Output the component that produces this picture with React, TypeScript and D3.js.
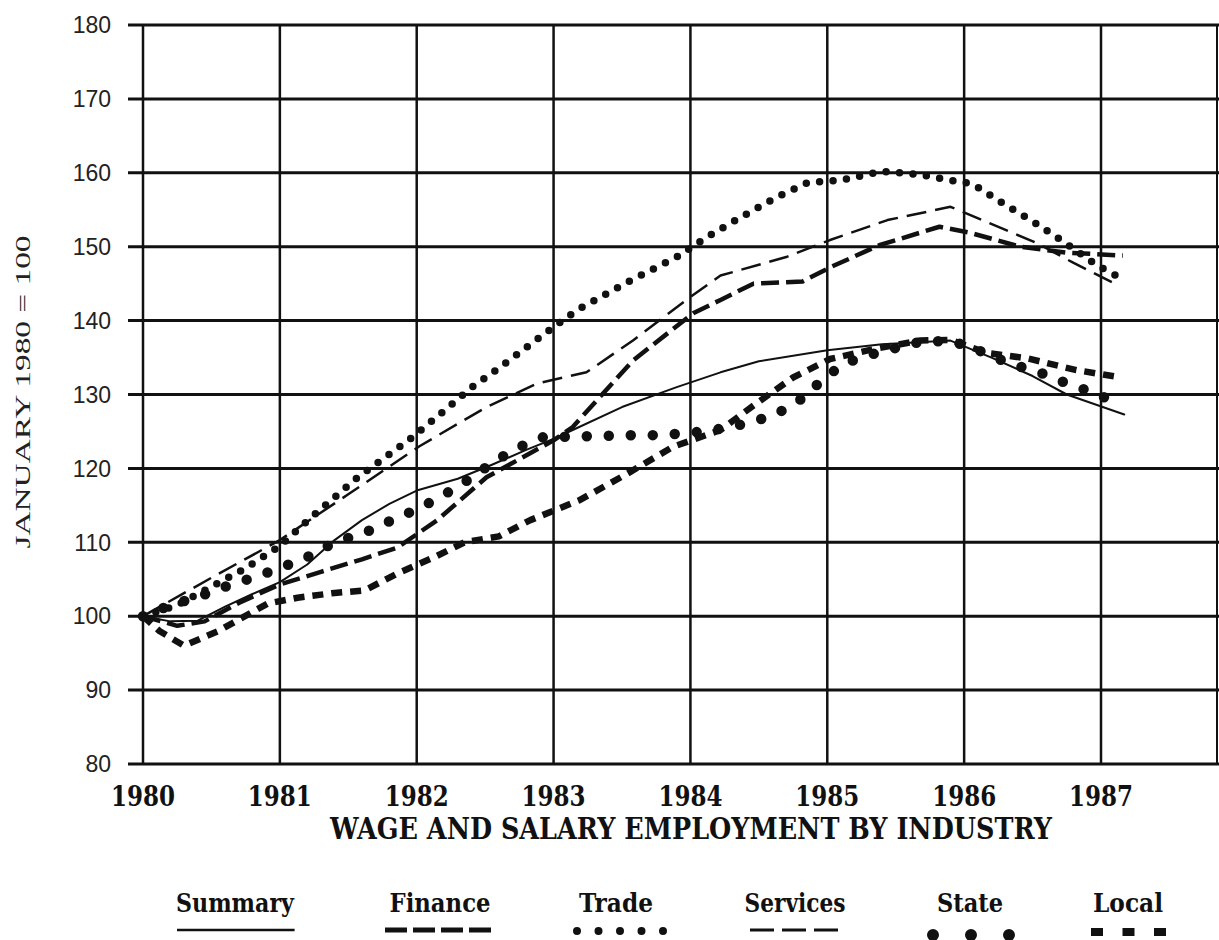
import React from "react";
import * as d3 from "d3";

// ---- data (year, index value; January 1980 = 100) ----
const summary: [number, number][] = [
  [1980.0, 100], [1980.2, 99.3], [1980.4, 99.4], [1980.6, 101.3], [1980.8, 103], [1981.0, 104.6],
  [1981.2, 107], [1981.4, 110.3], [1981.6, 113], [1981.8, 115.2], [1982.0, 117], [1982.3, 118.6],
  [1982.55, 120.5], [1982.8, 122.5], [1983.0, 124], [1983.14, 125.2], [1983.5, 128.3], [1983.9, 131],
  [1984.22, 133], [1984.5, 134.5], [1985.0, 136], [1985.4, 136.8], [1985.7, 137.1], [1985.9, 137.3],
  [1986.2, 135], [1986.5, 132.5], [1986.75, 130], [1987.17, 127.3],
];
const finance: [number, number][] = [
  [1980, 100], [1980.25, 98.7], [1980.45, 99.3], [1980.7, 101.8], [1981.0, 104.3], [1981.3, 106],
  [1981.6, 107.7], [1981.86, 109.3], [1982.15, 113], [1982.51, 118.8], [1983.0, 123.8], [1983.14, 125.6],
  [1983.58, 134.6], [1984.02, 141], [1984.22, 142.8], [1984.46, 145], [1984.82, 145.3], [1985.02, 147.2],
  [1985.38, 150.2], [1985.82, 152.7], [1986.04, 151.9], [1986.41, 150], [1986.75, 149.2], [1987.16, 148.8],
];
const trade: [number, number][] = [
  [1980, 100], [1980.25, 101.5], [1980.5, 104], [1980.75, 106.5], [1981.0, 109.5], [1981.23, 113.4],
  [1981.57, 118.8], [1981.94, 123.8], [1982.2, 127.8], [1982.39, 130.8], [1982.61, 133.7], [1982.94, 138.3],
  [1983.17, 141.4], [1983.54, 145.2], [1983.9, 148.6], [1984.12, 151.3], [1984.36, 153.9], [1984.62, 156.6],
  [1984.86, 158.7], [1985.1, 159], [1985.4, 160.2], [1985.66, 159.8], [1985.93, 158.9], [1986.06, 158.5],
  [1986.28, 155.9], [1986.52, 153.2], [1986.74, 150.5], [1986.97, 147.5], [1987.12, 146],
];
const services: [number, number][] = [
  [1980, 100], [1980.5, 105.2], [1981.0, 110.3], [1981.5, 116.5], [1982.02, 123], [1982.51, 128.3],
  [1982.88, 131.5], [1983.24, 133], [1983.58, 137.3], [1983.97, 142.8], [1984.22, 146.1], [1984.7, 148.6],
  [1985.02, 150.9], [1985.44, 153.6], [1985.9, 155.4], [1986.17, 153.3], [1986.53, 150.5], [1986.8, 147.8],
  [1987.1, 145],
];
const state: [number, number][] = [
  [1980, 100], [1980.2, 101.5], [1980.4, 102.6], [1980.6, 104], [1980.8, 105.2], [1981.0, 106.5],
  [1981.2, 108], [1981.4, 110], [1981.62, 111.3], [1981.82, 113], [1982.04, 114.8], [1982.3, 117.5],
  [1982.58, 121.1], [1982.75, 122.9], [1982.92, 124.2], [1983.14, 124.3], [1983.57, 124.5], [1983.78, 124.5],
  [1984.0, 124.8], [1984.2, 125.3], [1984.42, 126.1], [1984.62, 127.3], [1984.79, 129.1], [1984.96, 131.9],
  [1985.12, 134.2], [1985.32, 135.4], [1985.52, 136.4], [1985.72, 137.3], [1985.93, 137.1], [1986.13, 135.8],
  [1986.33, 134.2], [1986.55, 133], [1986.75, 131.5], [1986.94, 130.3], [1987.16, 128.5],
];
const local: [number, number][] = [
  [1980, 100], [1980.12, 98], [1980.3, 96.0], [1980.55, 98.0], [1980.91, 101.7], [1981.13, 102.5],
  [1981.38, 103.1], [1981.62, 103.5], [1981.86, 105.8], [1982.13, 108], [1982.35, 110], [1982.6, 110.8],
  [1982.83, 113], [1983.19, 115.7], [1983.54, 119.3], [1983.87, 122.9], [1984.22, 125.2], [1984.46, 128.5],
  [1984.75, 132.3], [1985.02, 134.8], [1985.35, 136.2], [1985.68, 137.3], [1985.9, 137.4], [1986.17, 135.6],
  [1986.46, 134.9], [1986.82, 133.3], [1987.15, 132.3],
];

const yearTicks = [1980, 1981, 1982, 1983, 1984, 1985, 1986, 1987];
const valueTicks = [80, 90, 100, 110, 120, 130, 140, 150, 160, 170, 180];
const legendNames = ["Summary", "Finance", "Trade", "Services", "State", "Local"];

const INK = "#111";

type Style = { width: number; dash?: string; cap?: "round" | "butt" | "square" };
const styles: Record<string, Style> = {
  Summary: { width: 2 },
  Finance: { width: 4.5, dash: "18 7", cap: "butt" },
  Trade: { width: 7.5, dash: "0 13.5", cap: "round" },
  Services: { width: 2.5, dash: "20 9", cap: "butt" },
  State: { width: 10.5, dash: "0 22", cap: "round" },
  Local: { width: 6.5, dash: "11 8", cap: "butt" },
};
const legendStyles: Record<string, Style> = {
  Summary: { width: 2.5 },
  Finance: { width: 5, dash: "22 6", cap: "butt" },
  Trade: { width: 8, dash: "0 21.5", cap: "round" },
  Services: { width: 3, dash: "24 8", cap: "butt" },
  State: { width: 12, dash: "0 38", cap: "round" },
  Local: { width: 8, dash: "12 19.5", cap: "butt" },
};

export default function App() {
  React.useEffect(() => {
    document.body.style.margin = "0";
  }, []);

  const W = 1219, H = 940;
  const x = d3.scaleLinear().domain([1980, 1987]).range([143, 1101]);
  const y = d3.scaleLinear().domain([80, 180]).range([764, 25]);
  const line = d3.line<[number, number]>().x((d) => x(d[0])).y((d) => y(d[1])).curve(d3.curveLinear);

  const series: [string, [number, number][]][] = [
    ["Summary", summary], ["Finance", finance], ["Trade", trade],
    ["Services", services], ["State", state], ["Local", local],
  ];

  // legend layout
  const legendLabelX = [235, 440, 616, 795, 970, 1128];
  const legendLabelW = [118, 101, 74, 101, 66, 70];
  const legendSym: [number, number, number][] = [
    [177, 294, 930], [385, 491, 930], [577, 663, 931], [750, 838, 930], [933, 1009, 935], [1091, 1166, 932],
  ];
  const serifFont = "'DejaVu Serif', 'Liberation Serif', serif";

  return (
    <svg width={W} height={H} style={{ display: "block", background: "#fff", position: "absolute", left: 0, top: 0 }}>
      <rect width={W} height={H} fill="#fff" />
      {/* horizontal gridlines */}
      {valueTicks.map((v) => (
        <line key={"h" + v} x1={128} x2={W} y1={y(v)} y2={y(v)} stroke={INK} strokeWidth={3} />
      ))}
      {/* vertical gridlines */}
      {yearTicks.map((yr) => (
        <line key={"v" + yr} x1={x(yr)} x2={x(yr)} y1={y(180)} y2={y(80)} stroke={INK} strokeWidth={2.5} />
      ))}
      <line x1={1217} x2={1217} y1={y(180)} y2={y(80)} stroke={INK} strokeWidth={2} />

      {/* y tick labels */}
      {valueTicks.map((v) => (
        <text key={"yl" + v} x={111} y={y(v)} dy="0.36em" textAnchor="end"
          fontFamily="'Liberation Sans', Arial, sans-serif" fontSize={23} fill="#222">
          {v}
        </text>
      ))}
      {/* x tick labels */}
      {yearTicks.map((yr) => (
        <text key={"xl" + yr} x={x(yr) - 32} y={806} fontFamily={serifFont} fontSize={27} fontWeight="bold"
          textLength={64} lengthAdjust="spacingAndGlyphs" fill={INK}>
          {yr}
        </text>
      ))}

      {/* y axis title */}
      <text transform="translate(30,392) rotate(-90)" textAnchor="middle" fontFamily="'Liberation Serif', serif"
        fontSize={22} textLength={313} lengthAdjust="spacingAndGlyphs" fill="#222">
        JANUARY 1980 = 100
      </text>

      {/* x axis title */}
      <text x={330} y={839} fontFamily={serifFont} fontSize={29} fontWeight="bold" textLength={722}
        lengthAdjust="spacingAndGlyphs" fill={INK}>
        WAGE AND SALARY EMPLOYMENT BY INDUSTRY
      </text>

      {/* series */}
      {series.map(([name, data]) => {
        const s = styles[name];
        return (
          <path key={name} d={line(data) || ""} fill="none" stroke={INK} strokeWidth={s.width}
            strokeDasharray={s.dash} strokeLinecap={s.cap || "round"} strokeLinejoin="round" />
        );
      })}

      {/* legend */}
      {legendNames.map((name, i) => {
        const s = legendStyles[name];
        const [x1, x2, ly] = legendSym[i];
        return (
          <g key={"lg" + name}>
            <text x={legendLabelX[i]} y={912} textAnchor="middle" fontFamily={serifFont} fontSize={26}
              fontWeight="bold" textLength={legendLabelW[i]} lengthAdjust="spacingAndGlyphs" fill={INK}>
              {name}
            </text>
            <line x1={x1} x2={x2 + 0.6} y1={ly} y2={ly} stroke={INK} strokeWidth={s.width}
              strokeDasharray={s.dash} strokeLinecap={s.cap || "butt"} />
          </g>
        );
      })}
    </svg>
  );
}
